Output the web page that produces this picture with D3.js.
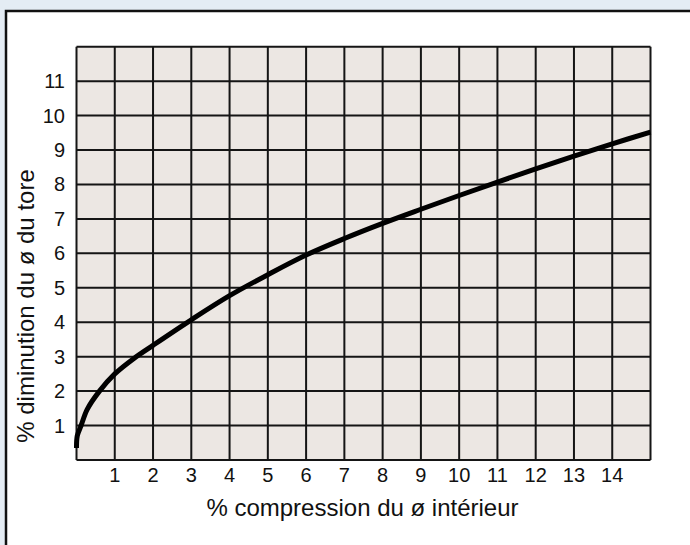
<!DOCTYPE html>
<html>
<head>
	<meta charset="utf-8">
	<script src="https://d3js.org/d3.v7.min.js"></script>
	<style>
		body { margin: 0; background: #fff; }
		text { font-family: "Liberation Sans", Arial, sans-serif; fill: #111; }
		text.tick { font-family: "Liberation Sans Narrow", "Arial Narrow", "Liberation Sans", sans-serif; }
	</style>
</head>
<body>
	<svg id="chart" width="690" height="545"></svg>
	<script>

	// % compression du ø intérieur (x) vs % diminution du ø du tore (y)
	const compression = [0, 0.02, 0.12, 0.28, 0.6, 1, 1.5, 2, 3, 4, 5, 6, 7, 8, 9, 10, 11, 12, 13, 14, 15];
	const diminution  = [0.35, 0.7, 1.0, 1.47, 2.0, 2.5, 2.95, 3.33, 4.07, 4.77, 5.38, 5.95, 6.43, 6.87, 7.28, 7.68, 8.07, 8.45, 8.82, 9.18, 9.52];

	const xTicks = [1, 2, 3, 4, 5, 6, 7, 8, 9, 10, 11, 12, 13, 14];
	const yTicks = [1, 2, 3, 4, 5, 6, 7, 8, 9, 10, 11];

	const xTitle = "% compression du ø intérieur";
	const yTitle = "% diminution du ø du tore";

	const svg = d3.select("#chart");

	// pale strip round the frame
	svg.append("rect").attr("x", 0).attr("y", 0).attr("width", 690).attr("height", 545).attr("fill", "#e4ecf4");
	svg.append("rect").attr("x", 6).attr("y", 11).attr("width", 700).attr("height", 560)
		.attr("fill", "#fff").attr("stroke", "#111").attr("stroke-width", 2.5);

	const x = d3.scaleLinear().domain([0, 15]).range([76.5, 650.5]);
	const y = d3.scaleLinear().domain([0, 12]).range([460, 46.7]);

	// plot background
	svg.append("rect")
		.attr("x", x(0)).attr("y", y(12))
		.attr("width", x(15) - x(0)).attr("height", y(0) - y(12))
		.attr("fill", "#ece7e3");

	// grid
	const grid = svg.append("g").attr("stroke", "#151515").attr("stroke-width", 2);
	grid.selectAll("line.v")
		.data(d3.range(0, 16))
		.join("line")
			.attr("class", "v")
			.attr("x1", d => x(d)).attr("x2", d => x(d))
			.attr("y1", y(0)).attr("y2", y(12));
	grid.selectAll("line.h")
		.data(d3.range(0, 13))
		.join("line")
			.attr("class", "h")
			.attr("y1", d => y(d)).attr("y2", d => y(d))
			.attr("x1", x(0)).attr("x2", x(15));

	// tick labels
	svg.append("g")
		.selectAll("text")
		.data(xTicks)
		.join("text")
			.attr("class", "tick")
			.attr("x", d => x(d))
			.attr("y", 482)
			.attr("text-anchor", "middle")
			.style("font-size", "20px")
			.text(d => d);

	svg.append("g")
		.selectAll("text")
		.data(yTicks)
		.join("text")
			.attr("class", "tick")
			.attr("x", 65)
			.attr("y", d => y(d))
			.attr("dy", "0.35em")
			.attr("text-anchor", "end")
			.style("font-size", "20px")
			.text(d => d);

	// axis titles
	svg.append("text")
		.attr("x", x(7.5) - 1)
		.attr("y", 516)
		.attr("text-anchor", "middle")
		.style("font-size", "24px")
		.text(xTitle);

	svg.append("text")
		.attr("transform", "translate(34,306) rotate(-90)")
		.attr("text-anchor", "middle")
		.style("font-size", "24px")
		.text(yTitle);

	// the curve
	const line = d3.line()
		.x(d => x(d[0]))
		.y(d => y(d[1]))
		.curve(d3.curveCatmullRom.alpha(0.5));

	svg.append("path")
		.datum(d3.zip(compression, diminution))
		.attr("d", line)
		.attr("fill", "none")
		.attr("stroke", "#000")
		.attr("stroke-width", 5);

	</script>
</body>
</html>
